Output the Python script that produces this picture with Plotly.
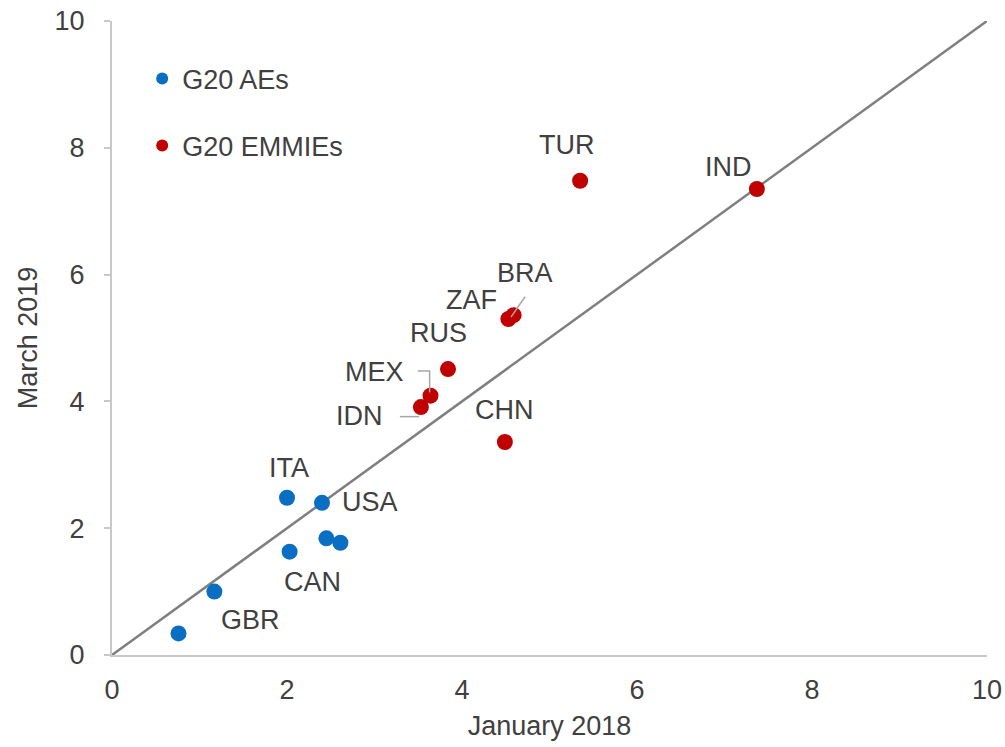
import plotly.graph_objects as go

# ---- data ----
ae_codes = ["JPN", "GBR", "ITA", "USA", "DEU", "FRA", "CAN"]
ae_jan2018 = [0.76, 1.17, 2.00, 2.40, 2.45, 2.61, 2.03]
ae_mar2019 = [0.34, 1.00, 2.48, 2.40, 1.84, 1.77, 1.63]
ae_show = [False, True, True, True, False, False, True]

em_codes = ["TUR", "IND", "RUS", "MEX", "IDN", "BRA", "ZAF", "CHN"]
em_jan2018 = [5.35, 7.37, 3.84, 3.64, 3.53, 4.59, 4.53, 4.49]
em_mar2019 = [7.48, 7.35, 4.51, 4.09, 3.91, 5.36, 5.30, 3.36]

diag_x = [0, 10]
diag_y = [0, 10]

x_ticks = [0, 2, 4, 6, 8, 10]
y_ticks = [0, 2, 4, 6, 8, 10]

# ---- styling ----
BLUE = "#0a6fc2"
RED = "#c00000"
TXT = "#404040"
FONT = "Liberation Sans, Arial, sans-serif"
FS = 27

# label offsets in pixels (dx right, dy up) relative to the point
label_offsets = {
    "GBR": (36, -28), "ITA": (2, 30), "USA": (48, 1), "CAN": (23, -30),
    "TUR": (-13, 36), "IND": (-28, 22), "RUS": (-10, 36), "MEX": (-56, 24),
    "IDN": (-61, -9), "BRA": (11, 42), "ZAF": (-37, 19), "CHN": (0, 32),
}

fig = go.Figure()

fig.add_trace(go.Scatter(
    x=diag_x, y=diag_y, mode="lines",
    line=dict(color="#7f7f7f", width=2.5),
    showlegend=False, hoverinfo="skip",
))

fig.add_trace(go.Scatter(
    x=ae_jan2018, y=ae_mar2019, mode="markers", name="G20 AEs",
    text=ae_codes, marker=dict(color=BLUE, size=16),
    legend="legend",
))
fig.add_trace(go.Scatter(
    x=em_jan2018, y=em_mar2019, mode="markers", name="G20 EMMIEs",
    text=em_codes, marker=dict(color=RED, size=16),
    legend="legend2",
))

annotations = []
for code, x, y, show in zip(ae_codes, ae_jan2018, ae_mar2019, ae_show):
    if not show:
        continue
    dx, dy = label_offsets[code]
    annotations.append(dict(x=x, y=y, xref="x", yref="y", text=code,
                            showarrow=False, xshift=dx, yshift=dy,
                            xanchor="center", yanchor="middle",
                            font=dict(family=FONT, size=FS, color=TXT)))
for code, x, y in zip(em_codes, em_jan2018, em_mar2019):
    dx, dy = label_offsets[code]
    annotations.append(dict(x=x, y=y, xref="x", yref="y", text=code,
                            showarrow=False, xshift=dx, yshift=dy,
                            xanchor="center", yanchor="middle",
                            font=dict(family=FONT, size=FS, color=TXT)))

# leader lines (data coords)
i_mex = em_codes.index("MEX")
i_idn = em_codes.index("IDN")
i_bra = em_codes.index("BRA")
lead = dict(color="#a6a6a6", width=1.5)
mx, my = em_jan2018[i_mex], em_mar2019[i_mex]
ix, iy = em_jan2018[i_idn], em_mar2019[i_idn]
bx, by = em_jan2018[i_bra], em_mar2019[i_bra]
shapes = [
    dict(type="path", xref="x", yref="y",
         path=f"M {mx - 0.145},{my + 0.39} L {mx - 0.01},{my + 0.39} L {mx - 0.01},{my + 0.05}",
         line=lead),
    dict(type="line", xref="x", yref="y", x0=ix - 0.24, y0=iy - 0.15, x1=ix - 0.02, y1=iy - 0.15,
         line=lead),
    dict(type="line", xref="x", yref="y", x0=bx + 0.13, y0=by + 0.29, x1=bx - 0.03, y1=by - 0.03,
         line=lead),
]

axis_common = dict(
    range=[0, 10], showgrid=False, zeroline=False,
    showline=True, linecolor="#c8c8c8", linewidth=2,
    tickfont=dict(family=FONT, size=FS, color=TXT),
    tickmode="array", automargin=False, ticklabeloverflow="allow",
)

fig.update_layout(
    width=1005, height=747,
    margin=dict(l=112, r=18, t=21, b=92),
    paper_bgcolor="white", plot_bgcolor="white",
    font=dict(family=FONT, size=FS, color=TXT),
    xaxis=dict(**axis_common, tickvals=x_ticks, ticks="",
               ticklabelstandoff=10,
               title=dict(text="January 2018", standoff=12,
                          font=dict(family=FONT, size=FS, color=TXT))),
    yaxis=dict(**axis_common, tickvals=y_ticks, ticks="outside", ticklen=6,
               tickcolor="#c8c8c8", tickwidth=1.5, ticklabelstandoff=14,
               title=dict(text="March 2019", standoff=9,
                          font=dict(family=FONT, size=FS, color=TXT))),
    legend=dict(x=0.0345, y=0.9085, xanchor="left", yanchor="middle",
                itemsizing="constant", bgcolor="rgba(0,0,0,0)",
                font=dict(family=FONT, size=FS, color=TXT)),
    legend2=dict(x=0.0345, y=0.803, xanchor="left", yanchor="middle",
                 itemsizing="constant", bgcolor="rgba(0,0,0,0)",
                 font=dict(family=FONT, size=FS, color=TXT)),
    annotations=annotations,
    shapes=shapes,
    hovermode="closest",
)

# remove the default 8px page margin so the 1005x747 figure fills the window
fig.write_html("out.html",
               config={"displayModeBar": False},
               post_script="document.body.style.margin='0';document.body.style.overflow='hidden';")
